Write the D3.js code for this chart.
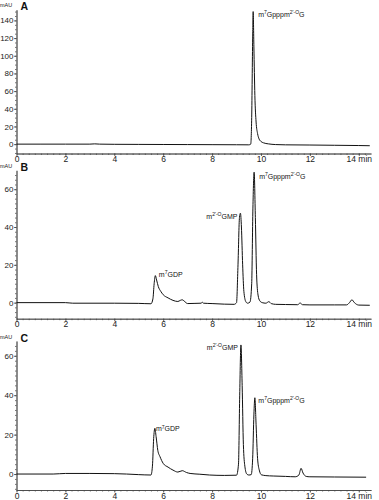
<!DOCTYPE html>
<html><head><meta charset="utf-8">
<script src="https://cdn.jsdelivr.net/npm/d3@7"></script>
<style>
body{margin:0;background:#fff;}
text{font-family:"Liberation Sans",Arial,Helvetica,sans-serif;}
</style></head>
<body><svg id="c" width="379" height="500"></svg>
<script>
// ---- data ----
const panelNames = ["A", "B", "C"];
const xTicks = [0, 2, 4, 6, 8, 10, 12, 14];
const yTicksA = [0, 20, 40, 60, 80, 100, 120, 140];
const yTicksB = [0, 20, 40, 60];
const yTicksC = [0, 20, 40, 60];

const timeA = [0,1,2,3.0,3.2,3.4,4,5,6,7,8,9,9.5,9.58,9.62,9.66,9.68,9.71,9.75,9.8,9.86,9.92,10.0,10.1,10.3,10.6,11,12,13,14,14.45];
const valA  = [0,0,0,0,0.3,0,-0.2,-0.3,-0.4,-0.5,-0.6,-0.7,-0.8,0,30,120,150,110,55,25,12,6,3,1.5,0.3,-0.5,-0.8,-1,-1.3,-1.6,-1.8];

const timeB = [0,2,2.3,4,5,5.5,5.58,5.63,5.68,5.73,5.8,5.9,6.0,6.2,6.4,6.6,6.7,6.78,6.86,7.0,7.3,7.55,7.6,7.65,8,8.5,8.9,9.0,9.06,9.12,9.16,9.2,9.25,9.3,9.38,9.45,9.55,9.62,9.67,9.72,9.77,9.82,9.88,9.95,10.05,10.2,10.32,10.42,10.6,11,11.5,11.6,11.7,12,13,13.5,13.62,13.72,13.82,14,14.45];
const valB  = [0,0,-0.3,-0.3,-0.4,-0.6,2,10,14.3,12,8.5,6,4.2,2.5,1.2,0.6,1.2,1.5,0.8,-0.5,-0.4,-0.3,0.2,-0.3,-0.5,-0.8,-0.9,0,20,45,47.3,40,20,6,0.5,-0.3,0.3,10,50,69,45,15,4,1,0,-0.3,0.5,-0.5,-0.9,-1,-1.1,-0.2,-1.1,-1.2,-1.2,-1.2,0,1.5,0,-1.3,-1.4];

const timeC = [0,1.5,2,3,4,4.5,5,5.5,5.56,5.61,5.66,5.71,5.78,5.87,6.0,6.2,6.4,6.6,6.78,6.95,7.1,7.5,7.9,8.5,9.0,9.08,9.13,9.18,9.23,9.28,9.34,9.42,9.5,9.6,9.66,9.71,9.75,9.8,9.86,9.93,10.02,10.2,10.5,11,11.4,11.55,11.64,11.72,11.85,12,13,14.3];
const valC  = [0,0,0.3,0.3,0.2,0,-0.3,-0.5,4,18,23.2,19,12,8.8,5.4,3.5,2,1,1.7,0.8,0.3,-0.1,-0.5,-0.7,-0.6,5,40,65.5,45,15,4,0,-0.5,-0.3,8,30,38.7,25,8,2,-0.4,-0.8,-1,-1.2,-1.4,-0.5,2.9,0.5,-1.2,-1.4,-1.5,-1.6];

// peak annotations (text pieces alternate normal / superscript) and the peak they name
const annA = [{t:9.68, v:150, parts:["m","7","Gpppm","2'-O","G"]}];
const annB = [{t:5.68, v:14.3, parts:["m","7","GDP"]},
              {t:9.16, v:47.3, parts:["m","2'-O","GMP"]},
              {t:9.72, v:69, parts:["m","7","Gpppm","2'-O","G"]}];
const annC = [{t:5.66, v:23.2, parts:["m","7","GDP"]},
              {t:9.18, v:65.5, parts:["m","2'-O","GMP"]},
              {t:9.75, v:38.7, parts:["m","7","Gpppm","2'-O","G"]}];

// ---- drawing ----
const svg = d3.select("#c");
svg.append("rect").attr("width",379).attr("height",500).attr("fill","#fff");
const x = d3.scaleLinear().domain([0,14.5]).range([16.5,371]);

const panels = [
  {name:panelNames[0], time:timeA, val:valA, ticks:yTicksA, dom:[-10.6,152], rng:[153.5,9.8], minor:5, ann:annA,
   off:[{dx:5,dy:5.5,anchor:"start"}]},
  {name:panelNames[1], time:timeB, val:valB, ticks:yTicksB, dom:[-8.5,70], rng:[318.7,170.3], minor:2.5, ann:annB,
   off:[{dx:3.5,dy:1,anchor:"start"},{dx:-3,dy:6,anchor:"end"},{dx:5,dy:6.5,anchor:"start"}]},
  {name:panelNames[2], time:timeC, val:valC, ticks:yTicksC, dom:[-8.1,67.5], rng:[490,341], minor:2.5, ann:annC,
   off:[{dx:1,dy:3,anchor:"start"},{dx:-3,dy:5,anchor:"end"},{dx:3.5,dy:5,anchor:"start"}]}
];

panels.forEach(p=>{
  const y = d3.scaleLinear().domain(p.dom).range(p.rng);
  const g = svg.append("g");
  const x0 = x.range()[0];
  const minorY = d3.range(Math.ceil(p.dom[0]/p.minor)*p.minor, p.dom[1], p.minor);
  g.append("g").attr("transform",`translate(${x0},0)`)
    .call(d3.axisLeft(y).tickValues(minorY).tickSize(1.5).tickFormat("").tickSizeOuter(0))
    .call(s=>s.selectAll("line,path").attr("stroke","#555").attr("stroke-width",0.8));
  g.append("g").attr("transform",`translate(${x0},0)`)
    .call(d3.axisLeft(y).tickValues(p.ticks).tickSize(2.5).tickPadding(0.5).tickSizeOuter(0))
    .call(s=>{s.selectAll("line,path").attr("stroke","#444").attr("stroke-width",0.8);
             s.selectAll("text").attr("font-size",8).attr("fill","#222");});
  const yb = p.rng[0];
  const minorX = d3.range(0,14.5,0.25);
  g.append("g").attr("transform",`translate(0,${yb})`)
    .call(d3.axisBottom(x).tickValues(minorX).tickSize(1.5).tickFormat("").tickSizeOuter(0))
    .call(s=>s.selectAll("line,path").attr("stroke","#555").attr("stroke-width",0.8));
  g.append("g").attr("transform",`translate(0,${yb})`)
    .call(d3.axisBottom(x).tickValues(xTicks).tickSize(2.5).tickPadding(0).tickSizeOuter(0)
      .tickFormat(d=>d===14?"14 min":d))
    .call(s=>{s.selectAll("line,path").attr("stroke","#444").attr("stroke-width",0.8);
             s.selectAll("text").attr("font-size",8.5).attr("fill","#222");});
  g.append("text").attr("x",0).attr("y",p.rng[1]-2.5).attr("font-size",5.5).attr("fill","#222").text("mAU");
  g.append("text").attr("x",20.5).attr("y",p.rng[1]+0.5).attr("font-size",10.5).attr("font-weight","bold").attr("fill","#111").text(p.name);
  const pts = p.time.map((t,i)=>[t,p.val[i]]);
  g.append("path").datum(pts)
    .attr("fill","none").attr("stroke","#111").attr("stroke-width",1).attr("stroke-linejoin","round")
    .attr("d", d3.line().x(d=>x(d[0])).y(d=>y(d[1])).curve(d3.curveMonotoneX));
  p.ann.forEach((a,i)=>{
    const o = p.off[i];
    const t = g.append("text").attr("x",x(a.t)+o.dx).attr("y",y(a.v)+o.dy)
      .attr("font-size",7).attr("fill","#111").attr("text-anchor",o.anchor);
    a.parts.forEach((s,k)=>{
      const sup = k%2===1;
      t.append("tspan").attr("font-size",sup?5:7).attr("dy",sup?-2.8:(k===0?0:2.8)).text(s);
    });
  });
});
</script></body></html>
